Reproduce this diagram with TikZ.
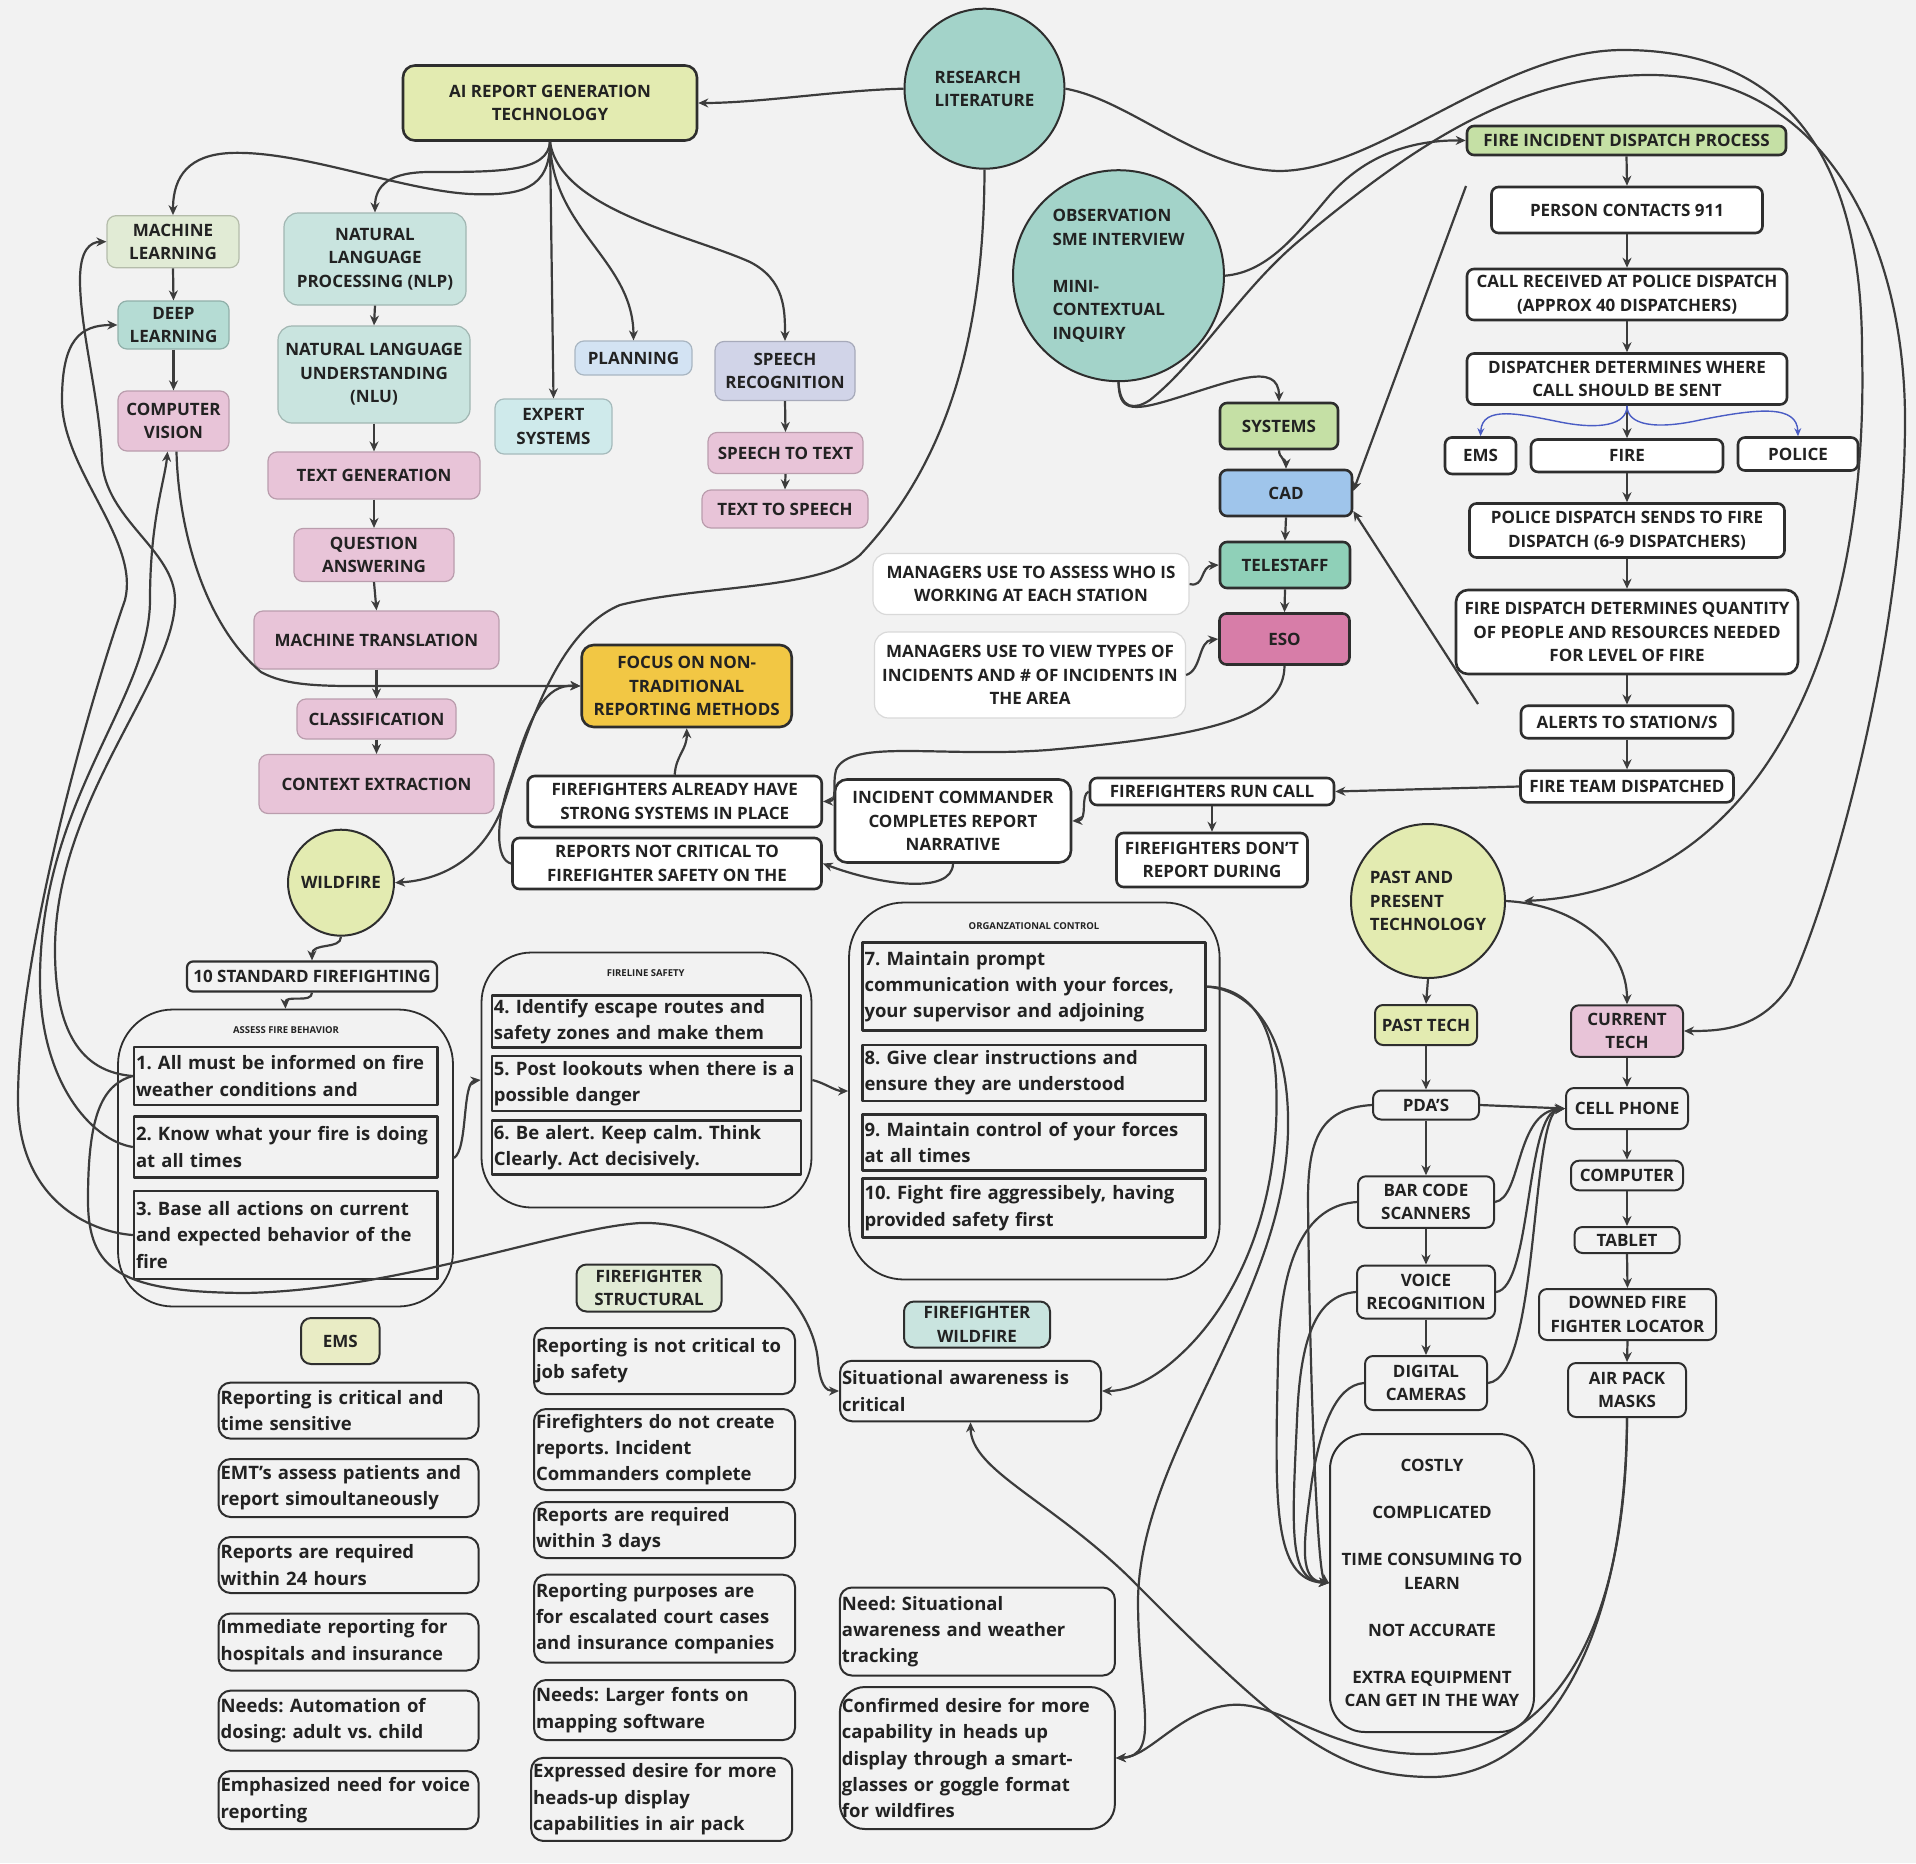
\documentclass[tikz,border=0pt]{standalone}
\usepackage{fontspec}
\setmainfont{Open Sans}
\usetikzlibrary{arrows.meta}
\frenchspacing
\hyphenpenalty=10000
\exhyphenpenalty=10000

\definecolor{bg}{HTML}{F2F2F2}
\definecolor{ink}{HTML}{2E2E2E}
\definecolor{wire}{HTML}{3C3C3C}
\definecolor{txt}{HTML}{222222}
\definecolor{cLime}{HTML}{E3EBB1}
\definecolor{cMint}{HTML}{E1EBD5}
\definecolor{cTeal}{HTML}{B5DCD4}
\definecolor{cPink}{HTML}{E8C4D8}
\definecolor{cAqua}{HTML}{C9E4DF}
\definecolor{cCyan}{HTML}{CFEAEB}
\definecolor{cSky}{HTML}{D3E3F3}
\definecolor{cLav}{HTML}{D1D4E8}
\definecolor{cSea}{HTML}{A3D3C9}
\definecolor{cGreen}{HTML}{C5E0A5}
\definecolor{cBlue}{HTML}{9FC5EB}
\definecolor{cJade}{HTML}{8FD0B8}
\definecolor{cRose}{HTML}{D77DA8}
\definecolor{cGold}{HTML}{F2C744}
\definecolor{cCream}{HTML}{E9ECC5}
\definecolor{cWireBlue}{HTML}{4A5CC4}

\newcommand{\capsize}{\fontsize{17}{23.5}\selectfont\bfseries}
\newcommand{\notesize}{\fontsize{18.5}{26.3}\selectfont\bfseries}
\newcommand{\hdsize}{\fontsize{9.5}{11}\selectfont\bfseries}

\begin{document}
\begin{tikzpicture}[x=1pt,y=-1pt,line join=round]
\tikzset{
  every node/.style={text=txt,font=\capsize,align=center,inner sep=2pt},
  wh/.style 2 args={minimum width=#1,minimum height=#2},
  softbox/.style={rectangle,rounded corners=9pt,fill=#1,draw=#1!80!black,line width=1.2pt},
  darkbox/.style={rectangle,rounded corners=7pt,fill=#1,draw=ink,line width=2.6pt},
  darkbox/.default=white,
  techbox/.style={rectangle,rounded corners=8pt,fill=#1,draw=ink,line width=2pt},
  techbox/.default=bg,
  bubble/.style={circle,fill=#1,draw=ink,line width=2pt,inner sep=0pt},
  ghostbox/.style={rectangle,rounded corners=14pt,fill=white,draw=black!15,line width=1.2pt},
  rulebox/.style={rectangle,draw=ink,line width=2.4pt,font=\notesize,align=left,inner xsep=2pt,inner ysep=2pt,text width=#1},
  notebox/.style={rectangle,rounded corners=12pt,draw=ink,line width=2pt,fill=bg,font=\notesize,align=left,inner xsep=2pt,inner ysep=2pt,text width=#1},
  groupbox/.style={rectangle,rounded corners=55pt,draw=ink,line width=1.8pt},
  grouphd/.style={font=\hdsize},
  link/.style={draw=wire,line width=2.2pt,-{Stealth[length=10pt,width=9pt]}},
  bluelink/.style={draw=cWireBlue,line width=1.4pt,-{Stealth[length=8pt,width=7pt]}}
}
\fill[bg] (0,0) rectangle (1916,1863);
\useasboundingbox (0,0) rectangle (1916,1863);

\node[darkbox=cLime,rounded corners=12pt,wh={294}{75}] (ai) at (550,103) {AI REPORT GENERATION\\TECHNOLOGY};
\node[softbox=cMint,wh={132}{52}] (ml) at (173,241.7) {MACHINE\\LEARNING};
\node[softbox=cTeal,wh={111}{48}] (dl) at (173.5,325) {DEEP\\LEARNING};
\node[softbox=cPink,wh={111}{60}] (cv) at (173.5,421) {COMPUTER\\VISION};
\node[softbox=cAqua,rounded corners=14pt,wh={182}{92}] (nlp) at (375,259) {NATURAL\\LANGUAGE\\PROCESSING (NLP)};
\node[softbox=cAqua,rounded corners=14pt,wh={192}{97}] (nlu) at (374,374.5) {NATURAL LANGUAGE\\UNDERSTANDING\\(NLU)};
\node[softbox=cPink,wh={212}{47}] (tgen) at (374,475.5) {TEXT GENERATION};
\node[softbox=cPink,wh={160}{53}] (qa) at (374,555) {QUESTION\\ANSWERING};
\node[softbox=cPink,wh={245}{58}] (mt) at (376.5,640) {MACHINE TRANSLATION};
\node[softbox=cPink,wh={159}{40}] (cls) at (376.5,719) {CLASSIFICATION};
\node[softbox=cPink,wh={235}{59}] (ctx) at (376.5,784) {CONTEXT EXTRACTION};
\node[softbox=cCyan,wh={117}{55}] (expert) at (553.5,426.5) {EXPERT\\SYSTEMS};
\node[softbox=cSky,wh={117}{34}] (plan) at (633.5,358) {PLANNING};
\node[softbox=cLav,wh={140}{59}] (spr) at (785,371) {SPEECH\\RECOGNITION};
\node[softbox=cPink,wh={155}{41}] (stt) at (785.5,453) {SPEECH TO TEXT};
\node[softbox=cPink,wh={166}{38}] (tts) at (785,509) {TEXT TO SPEECH};

\node[bubble=cSea,minimum size=160,align=left] (rl) at (984.5,88.7) {RESEARCH\\LITERATURE};
\node[bubble=cSea,minimum size=211,align=left] (obs) at (1118.5,275.7) {OBSERVATION\\SME INTERVIEW\\[23.5pt]MINI-\\CONTEXTUAL\\INQUIRY};
\node[bubble=cLime,minimum size=106] (wf) at (341,882.7) {WILDFIRE};
\node[bubble=cLime,minimum size=154,align=left] (pp) at (1428,901) {PAST AND\\PRESENT\\TECHNOLOGY};

\node[darkbox=cGreen,wh={319}{29}] (fidp) at (1626.5,140.5) {FIRE INCIDENT DISPATCH PROCESS};
\node[darkbox,wh={271}{46}] (p911) at (1627,210) {PERSON CONTACTS 911};
\node[darkbox,wh={320}{51}] (callrec) at (1627,294.5) {CALL RECEIVED AT POLICE DISPATCH\\(APPROX 40 DISPATCHERS)};
\node[darkbox,wh={320}{51}] (dispdet) at (1627,379) {DISPATCHER DETERMINES WHERE\\CALL SHOULD BE SENT};
\node[darkbox,wh={71}{36.5}] (ems1) at (1480.5,455.7) {EMS};
\node[darkbox,wh={192}{32.5}] (fire) at (1627,455.7) {FIRE};
\node[darkbox,wh={120}{33}] (police) at (1798,454) {POLICE};
\node[darkbox,wh={315}{54}] (pdsend) at (1627,530.5) {POLICE DISPATCH SENDS TO FIRE\\DISPATCH (6-9 DISPATCHERS)};
\node[darkbox,rounded corners=12pt,wh={342}{84}] (fddet) at (1627,632) {FIRE DISPATCH DETERMINES QUANTITY\\OF PEOPLE AND RESOURCES NEEDED\\FOR LEVEL OF FIRE};
\node[darkbox,wh={212}{32.5}] (alerts) at (1627,722) {ALERTS TO STATION/S};
\node[darkbox,wh={213}{31.7}] (ftd) at (1627,786.5) {FIRE TEAM DISPATCHED};
\node[darkbox,wh={244}{27}] (frc) at (1212,791.5) {FIREFIGHTERS RUN CALL};
\node[darkbox,wh={191}{54}] (fdr) at (1212,860) {FIREFIGHTERS DON'T\\REPORT DURING};
\node[darkbox,rounded corners=12pt,wh={236}{83}] (ic) at (953,821) {INCIDENT COMMANDER\\COMPLETES REPORT\\NARRATIVE};
\node[darkbox,wh={294}{51}] (ffhave) at (674.7,801.5) {FIREFIGHTERS ALREADY HAVE\\STRONG SYSTEMS IN PLACE};
\node[darkbox,wh={309}{51}] (rnc) at (667,863.5) {REPORTS NOT CRITICAL TO\\FIREFIGHTER SAFETY ON THE};
\node[darkbox=cGold,rounded corners=12pt,wh={210}{82}] (focus) at (686.7,686) {FOCUS ON NON-\\TRADITIONAL\\REPORTING METHODS};
\node[darkbox=cGreen,wh={118}{46}] (sys) at (1279,426) {SYSTEMS};
\node[darkbox=cBlue,wh={132}{46}] (cad) at (1286,493) {CAD};
\node[darkbox=cJade,wh={130}{46}] (tel) at (1285,565) {TELESTAFF};
\node[darkbox=cRose,wh={130}{51}] (eso) at (1284.5,639) {ESO};
\node[ghostbox,wh={316}{61}] (massess) at (1031,584) {MANAGERS USE TO ASSESS WHO IS\\WORKING AT EACH STATION};
\node[ghostbox,wh={311}{86}] (mview) at (1030,675) {MANAGERS USE TO VIEW TYPES OF\\INCIDENTS AND \# OF INCIDENTS IN\\THE AREA};
\node[techbox,rounded corners=6pt,line width=2.2pt,wh={250}{30}] (stdff) at (312,976.5) {10 STANDARD FIREFIGHTING};

\node[groupbox,wh={335}{297}] (assess) at (285.5,1158) {};
\node[grouphd] (assesshd) at (286,1030) {ASSESS FIRE BEHAVIOR};
\node[rulebox=299.5pt,minimum height=58] (r1) at (285.75,1076) {1. All must be informed on fire\\weather conditions and};
\node[rulebox=299.5pt,minimum height=61] (r2) at (285.75,1147) {2. Know what your fire is doing\\at all times};
\node[rulebox=299.5pt,minimum height=88] (r3) at (285.75,1235) {3. Base all actions on current\\and expected behavior of the\\fire};
\node[groupbox,rounded corners=50pt,wh={330}{255}] (fireline) at (646.5,1080) {};
\node[grouphd] (firelinehd) at (645.7,972.7) {FIRELINE SAFETY};
\node[rulebox=305pt,minimum height=52] (r4) at (646.4,1021.5) {4. Identify escape routes and\\safety zones and make them};
\node[rulebox=305pt,minimum height=55] (r5) at (646.4,1083.4) {5. Post lookouts when there is a\\possible danger};
\node[rulebox=305pt,minimum height=54] (r6) at (646.4,1147.5) {6. Be alert. Keep calm. Think\\Clearly. Act decisively.};
\node[groupbox,wh={370.6}{377}] (orgc) at (1034.3,1091) {};
\node[grouphd] (orghd) at (1034,926) {ORGANZATIONAL CONTROL};
\node[rulebox=339pt,minimum height=88] (r7) at (1034,986.6) {7. Maintain prompt\\communication with your forces,\\your supervisor and adjoining};
\node[rulebox=339pt,minimum height=56] (r8) at (1034,1072.7) {8. Give clear instructions and\\ensure they are understood};
\node[rulebox=339pt,minimum height=56] (r9) at (1034,1142.6) {9. Maintain control of your forces\\at all times};
\node[rulebox=339pt,minimum height=59] (r10) at (1034,1208) {10. Fight fire aggressibely, having\\provided safety first};

\node[techbox=cCream,rounded corners=10pt,wh={78.6}{46}] (emslbl) at (340.3,1341) {EMS};
\node[techbox=cMint,rounded corners=10pt,wh={145}{47}] (ffslbl) at (649,1288) {FIREFIGHTER\\STRUCTURAL};
\node[techbox=cAqua,rounded corners=10pt,wh={146}{46}] (ffwlbl) at (977,1324.5) {FIREFIGHTER\\WILDFIRE};

\node[notebox=256pt,minimum height=56] (e1) at (348.6,1410.6) {Reporting is critical and\\time sensitive};
\node[notebox=256pt,minimum height=58] (e2) at (348.6,1488) {EMT's assess patients and\\report simoultaneously};
\node[notebox=256pt,minimum height=56] (e3) at (348.6,1565) {Reports are required\\within 24 hours};
\node[notebox=256pt,minimum height=57] (e4) at (348.6,1642) {Immediate reporting for\\hospitals and insurance};
\node[notebox=256pt,minimum height=60] (e5) at (348.6,1720.6) {Needs: Automation of\\dosing: adult vs. child};
\node[notebox=256pt,minimum height=58] (e6) at (348.6,1800) {Emphasized need for voice\\reporting};
\node[notebox=257pt,minimum height=66] (s1) at (664.5,1361) {Reporting is not critical to\\job safety};
\node[notebox=257pt,minimum height=81] (s2) at (664.5,1449.5) {Firefighters do not create\\reports. Incident\\Commanders complete};
\node[notebox=257pt,minimum height=56] (s3) at (664.5,1530) {Reports are required\\within 3 days};
\node[notebox=257pt,minimum height=88] (s4) at (664.5,1618.7) {Reporting purposes are\\for escalated court cases\\and insurance companies};
\node[notebox=257pt,minimum height=60] (s5) at (664.5,1710) {Needs: Larger fonts on\\mapping software};
\node[notebox=257pt,minimum height=83] (s6) at (661.7,1799.4) {Expressed desire for more\\heads-up display\\capabilities in air pack};
\node[notebox=257pt,minimum height=60.5] (w1) at (970.5,1391) {Situational awareness is\\critical};
\node[notebox=271pt,minimum height=88] (w2) at (977.4,1631.5) {Need: Situational\\awareness and weather\\tracking};
\node[notebox=271pt,rounded corners=25pt,minimum height=142] (w3) at (977.4,1758) {Confirmed desire for more\\capability in heads up\\display through a smart-\\glasses or goggle format\\for wildfires};

\node[techbox=cLime,wh={102}{40}] (pt) at (1426,1025) {PAST TECH};
\node[techbox=cPink,wh={112}{51.5}] (ct) at (1627,1031) {CURRENT\\TECH};
\node[techbox,wh={106}{29}] (pda) at (1426,1105) {PDA'S};
\node[techbox,wh={122}{41}] (cell) at (1627,1108.5) {CELL PHONE};
\node[techbox,wh={112}{29.6}] (comp) at (1627,1175.5) {COMPUTER};
\node[techbox,wh={136}{51.5}] (bar) at (1426,1202) {BAR CODE\\SCANNERS};
\node[techbox,wh={105}{26}] (tab) at (1627,1240) {TABLET};
\node[techbox,wh={138}{53}] (voice) at (1426,1292) {VOICE\\RECOGNITION};
\node[techbox,wh={122}{54}] (dig) at (1426,1383) {DIGITAL\\CAMERAS};
\node[techbox,wh={177}{51}] (dffl) at (1627.5,1314.5) {DOWNED FIRE\\FIGHTER LOCATOR};
\node[techbox,wh={118}{54}] (air) at (1627,1390) {AIR PACK\\MASKS};
\node[techbox,rounded corners=35pt,wh={204}{298}] (costly) at (1432,1583) {COSTLY\\[23.5pt]COMPLICATED\\[23.5pt]TIME CONSUMING TO\\LEARN\\[23.5pt]NOT ACCURATE\\[23.5pt]EXTRA EQUIPMENT\\CAN GET IN THE WAY};

\coordinate (cadtop) at (1466,186);
\coordinate (cadlow) at (1478,704);

\draw[link] (ai.south) .. controls (550,190) and (520,196) .. (470,194) .. controls (400,190) and (300,150) .. (230,153) .. controls (190,155) and (173,175) .. (ml.north);
\draw[link] (ai.south) .. controls (548,172) and (500,172) .. (430,172) .. controls (390,172) and (375,185) .. (nlp.north);
\draw[link] (ai.south) -- (expert.north);
\draw[link] (ai.south) .. controls (552,230) and (633,260) .. (plan.north);
\draw[link] (ai.south) .. controls (560,210) and (690,235) .. (750,262) .. controls (785,280) and (785,310) .. (spr.north);
\draw[link] (ml.south) -- (dl.north);
\draw[link] (dl.south) -- (cv.north);
\draw[link] (nlp.south) -- (nlu.north);
\draw[link] (nlu.south) -- (tgen.north);
\draw[link] (tgen.south) -- (qa.north);
\draw[link] (qa.south) -- (mt.north);
\draw[link] (mt.south) -- (cls.north);
\draw[link] (cls.south) -- (ctx.north);
\draw[link] (spr.south) -- (stt.north);
\draw[link] (stt.south) -- (tts.north);

\draw[link] (rl.west) .. controls (840,90) and (760,103) .. (ai.east);
\draw[link] (rl.south) .. controls (984,330) and (950,460) .. (860,555) .. controls (820,590) and (700,585) .. (620,605) .. controls (560,630) and (530,720) .. (505,800) .. controls (485,860) and (440,880) .. (wf.east);
\draw[link] (rl.east) .. controls (1130,100) and (1200,170) .. (1280,171) .. controls (1380,170) and (1500,50) .. (1623,50) .. controls (1780,50) and (1862,150) .. (1862,350) .. controls (1870,650) and (1760,890) .. ([xshift=18pt]pp.east);
\draw[link] (obs.east) .. controls (1270,272) and (1300,230) .. (1330,195) .. controls (1370,150) and (1420,140) .. (fidp.west);
\draw[link] (obs.south) .. controls (1119,410) and (1130,412) .. (1170,400) .. controls (1230,382) and (1279,360) .. (sys.north);
\draw[link] (obs.south) .. controls (1120,410) and (1135,410) .. (1150,400) .. controls (1200,360) and (1240,290) .. (1300,240) .. controls (1420,140) and (1520,75) .. (1650,75) .. controls (1830,75) and (1905,250) .. (1905,420) .. controls (1905,640) and (1830,900) .. (1790,985) .. controls (1760,1030) and (1720,1031) .. (ct.east);

\draw[link] (fidp.south) -- (p911.north);
\draw[link] (p911.south) -- (callrec.north);
\draw[link] (callrec.south) -- (dispdet.north);
\draw[link] (dispdet.south) -- (fire.north);
\draw[bluelink] (dispdet.south) .. controls (1627,425) and (1600,430) .. (1560,422) .. controls (1520,414) and (1482,405) .. (ems1.north);
\draw[bluelink] (dispdet.south) .. controls (1627,425) and (1655,430) .. (1700,420) .. controls (1760,408) and (1797,405) .. (police.north);
\draw[link] (fire.south) -- (pdsend.north);
\draw[link] (pdsend.south) -- (fddet.north);
\draw[link] (fddet.south) -- (alerts.north);
\draw[link] (alerts.south) -- (ftd.north);
\draw[link] (ftd.west) -- (frc.east);
\draw[link] (frc.south) -- (fdr.north);
\draw[link] (frc.west) .. controls (1080,795) and (1088,820) .. (ic.east);
\draw[link] (ic.south) .. controls (952,895) and (880,885) .. (rnc.east);

\draw[link] (cadtop) -- ([yshift=2pt]cad.east);
\draw[link] (cadlow) -- ([yshift=-18pt]cad.east);
\draw[link] (sys.south) .. controls (1279,458) and (1286,460) .. (cad.north);
\draw[link] (cad.south) -- (tel.north);
\draw[link] (tel.south) -- (eso.north);
\draw[link] (massess.east) .. controls (1205,588) and (1200,566) .. (tel.west);
\draw[link] (mview.east) .. controls (1202,670) and (1198,641) .. (eso.west);
\draw[link] (eso.south) .. controls (1284,715) and (1220,735) .. (1048,750) .. controls (940,758) and (850,738) .. (836,770) .. controls (832,785) and (838,801) .. (ffhave.east);

\draw[link] (ffhave.north) .. controls (676,755) and (687,750) .. (focus.south);
\draw[link] (rnc.west) .. controls (495,860) and (495,820) .. (512,775) .. controls (530,715) and (545,684) .. (focus.west);
\draw[link] ([xshift=3pt]cv.south) .. controls (178,520) and (200,620) .. (261,672) .. controls (290,688) and (330,686) .. (400,686) -- (focus.west);

\draw[link] (r1.west) .. controls (80,1072) and (55,1030) .. (55,950) .. controls (55,800) and (175,680) .. (175,600) .. controls (175,550) and (105,520) .. (102,460) .. controls (100,400) and (80,330) .. (80,280) .. controls (80,250) and (90,242) .. (ml.west);
\draw[link] (r2.west) .. controls (90,1140) and (40,1080) .. (40,980) .. controls (40,800) and (150,700) .. (150,600) .. controls (150,520) and (165,480) .. ([xshift=-6pt]cv.south);
\draw[link] (r3.west) .. controls (90,1232) and (18,1200) .. (18,1100) .. controls (18,950) and (90,700) .. (125,600) .. controls (140,540) and (62,470) .. (62,400) .. controls (62,340) and (80,325) .. (dl.west);
\draw[link] (r1.west) .. controls (100,1085) and (88,1120) .. (88,1200) .. controls (88,1270) and (120,1292) .. (245,1293) .. controls (400,1290) and (560,1228) .. (640,1223) .. controls (720,1220) and (812,1290) .. (818,1361) .. controls (820,1385) and (826,1391) .. (w1.west);

\draw[link] (wf.south) .. controls (341,950) and (312,942) .. (stdff.north);
\draw[link] (stdff.south) .. controls (312,1004) and (285,994) .. (assess.north);
\draw[link] (assess.east) .. controls (468,1150) and (462,1082) .. (fireline.west);
\draw[link] (fireline.east) .. controls (825,1083) and (835,1091) .. (orgc.west);
\draw[link] (r7.east) .. controls (1240,987) and (1272,1010) .. (1276,1080) .. controls (1282,1200) and (1240,1300) .. (1180,1355) .. controls (1150,1383) and (1125,1391) .. (w1.east);
\draw[link] (r7.east) .. controls (1250,990) and (1290,1030) .. (1288,1130) .. controls (1285,1300) and (1140,1450) .. (1138,1600) .. controls (1138,1700) and (1162,1756) .. (w3.east);
\draw[link] (air.south) .. controls (1627,1620) and (1560,1750) .. (1430,1754) .. controls (1330,1756) and (1280,1700) .. (1230,1705) .. controls (1180,1710) and (1150,1757) .. (w3.east);
\draw[link] (air.south) .. controls (1625,1650) and (1540,1778) .. (1430,1777) .. controls (1340,1776) and (1290,1740) .. (1130,1578) .. controls (1050,1500) and (971,1470) .. (w1.south);

\draw[link] (pp.south) -- (pt.north);
\draw[link] (pp.east) .. controls (1580,905) and (1627,950) .. (ct.north);
\draw[link] (pt.south) -- (pda.north);
\draw[link] (pda.south) -- (bar.north);
\draw[link] (bar.south) -- (voice.north);
\draw[link] (voice.south) -- (dig.north);
\draw[link] (ct.south) -- (cell.north);
\draw[link] (cell.south) -- (comp.north);
\draw[link] (comp.south) -- (tab.north);
\draw[link] (tab.south) -- (dffl.north);
\draw[link] (dffl.south) -- (air.north);
\draw[link] (pda.east) -- (cell.west);
\draw[link] (bar.east) .. controls (1522,1198) and (1515,1112) .. (cell.west);
\draw[link] (voice.east) .. controls (1532,1288) and (1525,1112) .. (cell.west);
\draw[link] (dig.east) .. controls (1540,1378) and (1530,1112) .. (cell.west);
\draw[link] (pda.west) .. controls (1320,1108) and (1308,1140) .. (1308,1200) .. controls (1310,1400) and (1318,1575) .. (costly.west);
\draw[link] (bar.west) .. controls (1310,1205) and (1280,1250) .. (1278,1360) .. controls (1275,1500) and (1272,1580) .. (costly.west);
\draw[link] (voice.west) .. controls (1315,1295) and (1300,1340) .. (1297,1420) .. controls (1292,1530) and (1288,1580) .. (costly.west);
\draw[link] (dig.west) .. controls (1335,1385) and (1320,1430) .. (1312,1480) .. controls (1302,1550) and (1300,1580) .. (costly.west);
\end{tikzpicture}
\end{document}
